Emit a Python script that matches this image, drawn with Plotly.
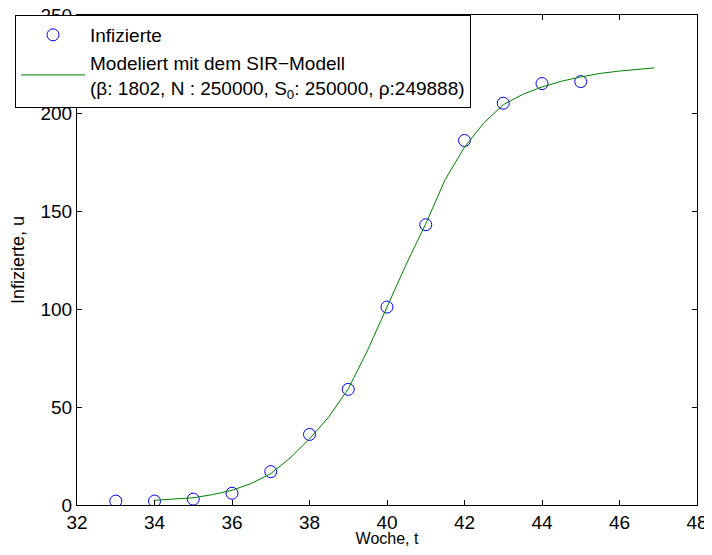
import plotly.graph_objects as go

# observed cases per week
weeks = [33, 34, 35, 36, 37, 38, 39, 40, 41, 42, 43, 44, 45]
infected = [2, 2, 3, 6, 17, 36, 59, 101, 143, 186, 205, 215, 216]

# SIR model curve
model_t = [34, 34.5, 35, 35.5, 36, 36.5, 37, 37.5, 38, 38.5, 39, 39.5, 40,
           40.5, 41, 41.5, 42, 42.5, 43, 43.5, 44, 44.5, 45, 45.5, 46, 46.5, 46.9]
model_u = [2.4, 3.0, 3.7, 5.3, 7.5, 11, 16, 24, 33.7, 45, 59.3, 79, 101,
           123, 143.5, 166, 182.6, 195, 204.2, 209.5, 213.3, 216.2, 218.4,
           220.2, 221.4, 222.3, 223]

x_ticks = [32, 34, 36, 38, 40, 42, 44, 46, 48]
y_ticks = [0, 50, 100, 150, 200, 250]

FONT = "Liberation Sans, Arial, sans-serif"

fig = go.Figure()
fig.add_trace(go.Scatter(
    x=weeks, y=infected, mode="markers", name="Infizierte",
    marker=dict(symbol="circle-open", size=12, color="rgb(0,0,255)",
                line=dict(width=1, color="rgb(0,0,255)")),
))
fig.add_trace(go.Scatter(
    x=model_t, y=model_u, mode="lines",
    name="Modeliert mit dem SIR\u2212Modell<br>(\u03b2: 1802, N : 250000, "
         "S<sub>0</sub>: 250000, \u03c1:249888)",
    line=dict(color="rgb(0,128,0)", width=1),
))

axis_style = dict(
    showline=True, linecolor="black", linewidth=1, mirror="ticks",
    ticks="inside", ticklen=5, tickcolor="black", tickwidth=1,
    showgrid=False, zeroline=False, automargin=False,
    ticklabeloverflow="allow",
    tickfont=dict(family=FONT, size=19, color="black"),
)

# page body has an 8px margin, so the figure is 16px smaller than the window
W, H = 712 - 16, 555 - 16
ML, MR, MT, MB = 7, 7, 7, 42
paper_w = W - ML - MR
fig.update_layout(
    width=W, height=H,
    margin=dict(l=ML, r=MR, t=MT, b=MB),
    paper_bgcolor="white", plot_bgcolor="white",
    font=dict(family=FONT, color="black"),
    xaxis=dict(range=[32, 48], tickvals=x_ticks,
               domain=[62 / paper_w, 1],
               title=dict(text="Woche, t", font=dict(size=16), standoff=7),
               **axis_style),
    yaxis=dict(range=[0, 250], tickvals=y_ticks,
               title=dict(text="Infizierte, u", font=dict(size=18), standoff=12),
               **axis_style),
    legend=dict(x=0, y=1.0, xanchor="left", yanchor="top",
                bgcolor="white", bordercolor="black", borderwidth=1,
                itemwidth=64,
                font=dict(family=FONT, size=19, color="black")),
)

fig.write_html("out.html")
